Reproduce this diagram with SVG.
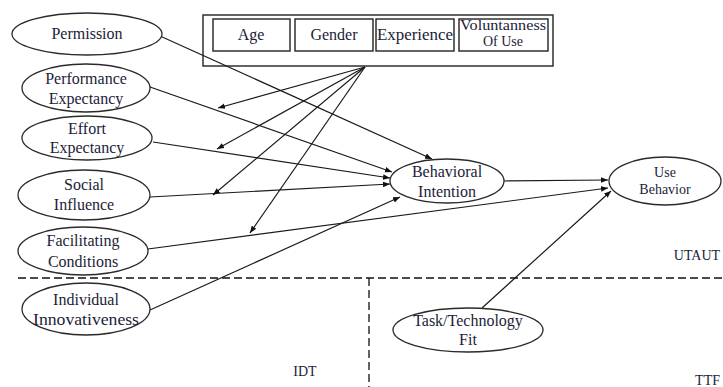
<svg xmlns="http://www.w3.org/2000/svg" width="723" height="387" viewBox="0 0 723 387" font-family="'Liberation Serif', 'Times New Roman', serif">
<defs>
<marker id="arr" viewBox="0 0 10 10" refX="10" refY="5" markerWidth="7" markerHeight="7" markerUnits="userSpaceOnUse" orient="auto">
<path d="M0,1 L10,5 L0,9 z" fill="#111"/>
</marker>
<style>
.node ellipse{fill:#fff;stroke:#2a2a2a;stroke-width:1.3}
.box{fill:#fff;stroke:#222;stroke-width:1.4}
text{font-family:'Liberation Serif','Times New Roman',serif;font-size:16px;fill:#1c1c38;text-anchor:middle}
.lbl{font-size:14px}
.small{font-size:14px}
#connectors line{stroke:#1a1a1a;stroke-width:1.2;fill:none}
.arr{marker-end:url(#arr)}
.dash{stroke:#111;stroke-width:1.3;stroke-dasharray:8 4;fill:none}
</style>
</defs>
<rect width="723" height="387" fill="#fff"/>

<!-- region dividers -->
<g id="regions">
<line class="dash" x1="18" y1="278" x2="723" y2="278"/>
<line class="dash" x1="369" y1="278" x2="369" y2="387"/>
<text class="lbl" x="697" y="260">UTAUT</text>
<text class="lbl" x="305" y="376">IDT</text>
<text class="lbl" x="720" y="385" style="text-anchor:end">TTF</text>
</g>

<!-- moderators -->
<g id="moderators">
<rect class="box" x="203" y="15" width="350" height="51"/>
<g id="age"><rect class="box" x="213" y="19" width="77" height="32"/><text x="251" y="40">Age</text></g>
<g id="gender"><rect class="box" x="295" y="19" width="78" height="32"/><text x="334" y="40">Gender</text></g>
<g id="experience"><rect class="box" x="376" y="19" width="78" height="32"/><text x="415" y="40" textLength="76" lengthAdjust="spacingAndGlyphs">Experience</text></g>
<g id="voluntariness"><rect class="box" x="459" y="19" width="89" height="32"/><text class="small" x="503" y="30" textLength="86" lengthAdjust="spacingAndGlyphs">Voluntanness</text><text class="small" x="503" y="46">Of Use</text></g>
</g>

<!-- connectors -->
<g id="connectors">
<line class="arr" x1="160" y1="36" x2="432" y2="159"/>
<line class="arr" x1="150" y1="87" x2="392" y2="172"/>
<line class="arr" x1="153" y1="142" x2="390" y2="178"/>
<line class="arr" x1="150" y1="197" x2="390" y2="184"/>
<line class="arr" x1="150" y1="310" x2="400" y2="197"/>
<line class="arr" x1="148" y1="249" x2="608" y2="188"/>
<line class="arr" x1="504" y1="181" x2="608" y2="180"/>
<line class="arr" x1="482" y1="308" x2="611" y2="191"/>
<line class="arr" x1="365" y1="67" x2="218" y2="108"/>
<line class="arr" x1="365" y1="67" x2="217" y2="149"/>
<line class="arr" x1="365" y1="67" x2="213" y2="195"/>
<line class="arr" x1="365" y1="67" x2="250" y2="233"/>
</g>

<!-- nodes -->
<g id="permission" class="node"><ellipse cx="87" cy="34" rx="75" ry="21"/><text x="87" y="39">Permission</text></g>
<g id="performance" class="node"><ellipse cx="86" cy="88" rx="64" ry="24"/><text x="86" y="84">Performance</text><text x="86" y="104">Expectancy</text></g>
<g id="effort" class="node"><ellipse cx="87" cy="138" rx="65" ry="22"/><text x="87" y="134">Effort</text><text x="87" y="153">Expectancy</text></g>
<g id="social" class="node"><ellipse cx="84" cy="195" rx="66" ry="25"/><text x="84" y="190">Social</text><text x="84" y="210">Influence</text></g>
<g id="facilitating" class="node"><ellipse cx="83" cy="251" rx="65" ry="24"/><text x="83" y="246">Facilitating</text><text x="83" y="267">Conditions</text></g>
<g id="innovativeness" class="node"><ellipse cx="86" cy="309" rx="64" ry="26"/><text x="86" y="305">Individual</text><text x="86" y="325" textLength="106" lengthAdjust="spacingAndGlyphs">Innovativeness</text></g>
<g id="intention" class="node"><ellipse cx="447" cy="181" rx="57" ry="22"/><text x="447" y="177">Behavioral</text><text x="447" y="197">Intention</text></g>
<g id="usebehavior" class="node"><ellipse cx="665" cy="181" rx="56" ry="24"/><text class="small" x="665" y="177">Use</text><text class="small" x="665" y="194">Behavior</text></g>
<g id="ttf" class="node"><ellipse cx="468" cy="330" rx="75" ry="22"/><text x="468" y="326">Task/Technology</text><text x="468" y="345">Fit</text></g>
</svg>
